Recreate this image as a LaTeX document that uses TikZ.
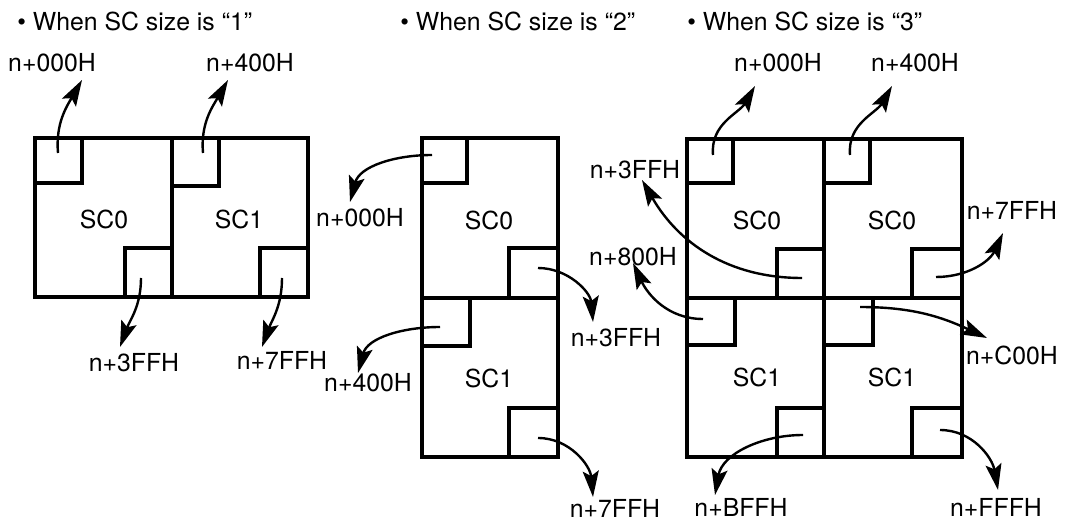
\documentclass[tikz,border=0pt]{standalone}
\usepackage{fontspec}
\setmainfont{TeX Gyre Heros}
\usetikzlibrary{arrows.meta}
\tikzset{
  sc frame/.style={line width=1.7pt},
  addr label/.style={inner sep=0pt, font=\fontsize{12.4}{14}\selectfont},
  sc label/.style={inner sep=0pt, font=\fontsize{12.4}{14}\selectfont},
  title text/.style={inner sep=0pt, anchor=west, font=\fontsize{12.4}{14}\selectfont},
  addr arrow/.style={-{Stealth[length=13pt,width=8pt,inset=2.5pt]}, line width=1.2pt}
}

\begin{document}
\begin{tikzpicture}[x=0.5pt, y=0.5pt]
  \useasboundingbox (0,0) rectangle (1065,-523);

  % titles
  \node[title text] (title1) at (17,-21) {• When SC size is “1”};
  \node[title text] (title2) at (400,-21) {• When SC size is “2”};
  \node[title text] (title3) at (687,-21) {• When SC size is “3”};

  % SC size 1
  \draw[sc frame] (35,-138) rectangle (308,-297);
  \draw[sc frame] (172,-138) -- (172,-297);
  \draw[sc frame] (35,-138) rectangle (82,-183);
  \draw[sc frame] (172,-138) rectangle (219,-186);
  \draw[sc frame] (125,-248) rectangle (172,-297);
  \draw[sc frame] (260,-248) rectangle (308,-297);
  \node[sc label] (one sc0) at (104,-219) {SC0};
  \node[sc label] (one sc1) at (239,-219) {SC1};
  \node[addr label] (one a) at (52,-63) {n+000H};
  \node[addr label] (one b) at (250,-63) {n+400H};
  \node[addr label] (one c) at (134,-363) {n+3FFH};
  \node[addr label] (one d) at (282,-360) {n+7FFH};
  \coordinate (one a start) at (58,-153);
  \coordinate (one a tip) at (82,-80);
  \coordinate (one b start) at (203,-153);
  \coordinate (one b tip) at (228,-80);
  \coordinate (one c start) at (141,-278);
  \coordinate (one c tip) at (120,-347);
  \coordinate (one d start) at (282,-278);
  \coordinate (one d tip) at (262,-347);
  \draw[addr arrow] (one a start) to[out=95, in=-120] (one a tip);
  \draw[addr arrow] (one b start) to[out=95, in=-120] (one b tip);
  \draw[addr arrow] (one c start) to[out=-90, in=70] (one c tip);
  \draw[addr arrow] (one d start) to[out=-90, in=70] (one d tip);

  % SC size 2
  \draw[sc frame] (422,-138) rectangle (558,-457);
  \draw[sc frame] (422,-298) -- (558,-298);
  \draw[sc frame] (422,-138) rectangle (467,-183);
  \draw[sc frame] (509,-248) rectangle (558,-298);
  \draw[sc frame] (422,-298) rectangle (470,-346);
  \draw[sc frame] (509,-408) rectangle (558,-457);
  \node[sc label] (two sc0) at (489,-220) {SC0};
  \node[sc label] (two sc1) at (489,-378) {SC1};
  \node[addr label] (two a) at (360,-218) {n+000H};
  \node[addr label] (two b) at (616,-338) {n+3FFH};
  \node[addr label] (two c) at (368,-383) {n+400H};
  \node[addr label] (two d) at (615,-508) {n+7FFH};
  \coordinate (two a start) at (432,-155);
  \coordinate (two a tip) at (350,-202);
  \coordinate (two b start) at (538,-268);
  \coordinate (two b tip) at (593,-322);
  \coordinate (two c start) at (440,-327);
  \coordinate (two c tip) at (358,-373);
  \coordinate (two d start) at (538,-438);
  \coordinate (two d tip) at (593,-497);
  \draw[addr arrow] (two a start) to[out=180, in=75] (two a tip);
  \draw[addr arrow] (two b start) to[out=0, in=95] (two b tip);
  \draw[addr arrow] (two c start) to[out=180, in=75] (two c tip);
  \draw[addr arrow] (two d start) to[out=0, in=95] (two d tip);

  % SC size 3
  \draw[sc frame] (687,-139) rectangle (962,-457);
  \draw[sc frame] (824,-139) -- (824,-457);
  \draw[sc frame] (687,-298) -- (962,-298);
  \draw[sc frame] (687,-139) rectangle (733,-183);
  \draw[sc frame] (824,-139) rectangle (870,-183);
  \draw[sc frame] (777,-249) rectangle (824,-298);
  \draw[sc frame] (912,-249) rectangle (962,-298);
  \draw[sc frame] (687,-298) rectangle (735,-345);
  \draw[sc frame] (824,-298) rectangle (873,-345);
  \draw[sc frame] (777,-408) rectangle (824,-457);
  \draw[sc frame] (912,-408) rectangle (962,-457);
  \node[sc label] (three sc0 l) at (757,-220) {SC0};
  \node[sc label] (three sc0 r) at (892,-220) {SC0};
  \node[sc label] (three sc1 l) at (757,-377) {SC1};
  \node[sc label] (three sc1 r) at (892,-377) {SC1};
  \node[addr label] (three a) at (778,-63) {n+000H};
  \node[addr label] (three b) at (915,-63) {n+400H};
  \node[addr label] (three c) at (635,-170) {n+3FFH};
  \node[addr label] (three d) at (633,-257) {n+800H};
  \node[addr label] (three e) at (1012,-210) {n+7FFH};
  \node[addr label] (three f) at (1012,-355) {n+C00H};
  \node[addr label] (three g) at (741,-507) {n+BFFH};
  \node[addr label] (three h) at (996,-507) {n+FFFH};
  \coordinate (three a start) at (713,-155);
  \coordinate (three a tip) at (755,-86);
  \coordinate (three b start) at (850,-155);
  \coordinate (three b tip) at (892,-86);
  \coordinate (three c start) at (802,-278);
  \coordinate (three c tip) at (642,-180);
  \coordinate (three d start) at (703,-319);
  \coordinate (three d tip) at (633,-263);
  \coordinate (three e start) at (936,-277);
  \coordinate (three e tip) at (1003,-233);
  \coordinate (three f start) at (860,-307);
  \coordinate (three f tip) at (987,-338);
  \coordinate (three g start) at (803,-435);
  \coordinate (three g tip) at (715,-495);
  \coordinate (three h start) at (940,-430);
  \coordinate (three h tip) at (998,-490);
  \draw[addr arrow] (three a start) to[out=95, in=-120] (three a tip);
  \draw[addr arrow] (three b start) to[out=95, in=-120] (three b tip);
  \draw[addr arrow] (three c start) to[out=180, in=-60] (three c tip);
  \draw[addr arrow] (three d start) to[out=180, in=-65] (three d tip);
  \draw[addr arrow] (three e start) to[out=0, in=-115] (three e tip);
  \draw[addr arrow] (three f start) to[out=0, in=155] (three f tip);
  \draw[addr arrow] (three g start) to[out=180, in=80] (three g tip);
  \draw[addr arrow] (three h start) to[out=0, in=100] (three h tip);
\end{tikzpicture}
\end{document}
